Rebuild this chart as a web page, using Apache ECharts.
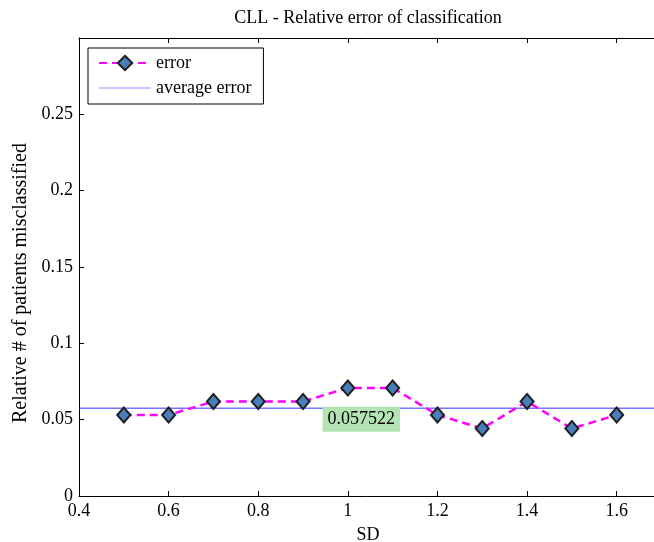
<!DOCTYPE html>
<html>
<head>
<meta charset="utf-8">
<script src="https://cdn.jsdelivr.net/npm/echarts@6/dist/echarts.min.js"></script>
<style>
html,body{margin:0;padding:0;background:#fff;overflow:hidden;}
#chart{width:654px;height:542px;}
</style>
</head>
<body>
<div id="chart"></div>
<script>
// ---- data ----
var sdValues = [0.5, 0.6, 0.7, 0.8, 0.9, 1.0, 1.1, 1.2, 1.3, 1.4, 1.5, 1.6];
var errorValues = [0.0531, 0.0531, 0.0619, 0.0619, 0.0619, 0.0708, 0.0708, 0.0531, 0.0442, 0.0619, 0.0442, 0.0531];
var averageError = 0.057522;
var averageLabel = '0.057522';
var averageLabelX = 1.03;
var xMin = 0.4, xMax = 1.69, yMin = 0, yMax = 0.3;
var titleText = 'CLL - Relative error of classification';
var xName = 'SD';
var yName = 'Relative # of patients misclassified';
var seriesNames = ['error', 'average error'];

var FONT = 'Liberation Serif';
var chart = echarts.init(document.getElementById('chart'), null, {renderer: 'canvas'});

var errorData = sdValues.map(function (x, i) { return [x, errorValues[i]]; });
var averageData = [[xMin, averageError], [xMax, averageError]];

function axisLine() { return {show: true, onZero: false, lineStyle: {color: '#000', width: 1}}; }
function axisTick() { return {show: true, inside: true, length: 5, lineStyle: {color: '#000', width: 1}}; }

var option = {
  backgroundColor: '#fff',
  animation: false,
  textStyle: {fontFamily: FONT},
  grid: {left: 79, top: 38, width: 578, height: 458, outerBoundsMode: 'none', containLabel: false},
  legend: {
    orient: 'vertical',
    left: 88, top: 48,
    padding: [5, 12, 6, 10],
    itemGap: 5,
    itemWidth: 52, itemHeight: 18,
    backgroundColor: '#fff',
    borderColor: '#000', borderWidth: 1,
    textStyle: {fontFamily: FONT, fontSize: 18, color: '#000', lineHeight: 20},
    data: [
      {name: seriesNames[0]},
      {name: seriesNames[1], itemStyle: {opacity: 0}, lineStyle: {color: '#9090ff', width: 1}}
    ]
  },
  graphic: [{
    type: 'text',
    x: 21, y: 283,
    rotation: Math.PI / 2,
    style: {
      text: yName,
      font: '20px "Liberation Serif"',
      fill: '#000',
      align: 'center',
      verticalAlign: 'middle'
    }
  }],
  xAxis: [
    {
      type: 'value', min: xMin, max: xMax, interval: 0.2,
      position: 'bottom',
      axisLine: axisLine(), axisTick: axisTick(), splitLine: {show: false},
      name: xName, nameLocation: 'middle', nameGap: 30,
      nameTextStyle: {fontFamily: FONT, fontSize: 18, color: '#000'},
      axisLabel: {fontFamily: FONT, fontSize: 18, color: '#000', margin: 6, showMaxLabel: false}
    },
    {
      type: 'value', min: xMin, max: xMax, interval: 0.2,
      position: 'top',
      axisLine: axisLine(), axisTick: axisTick(), splitLine: {show: false},
      name: titleText, nameLocation: 'middle', nameGap: 11,
      nameTextStyle: {fontFamily: FONT, fontSize: 18, color: '#000'},
      axisLabel: {show: false}
    }
  ],
  yAxis: [
    {
      type: 'value', min: yMin, max: yMax, interval: 0.05,
      position: 'left',
      axisLine: axisLine(), axisTick: axisTick(), splitLine: {show: false},
      axisLabel: {fontFamily: FONT, fontSize: 18, color: '#000', margin: 6, showMaxLabel: false}
    },
    {
      type: 'value', min: yMin, max: yMax, interval: 0.05,
      position: 'right',
      show: false
    }
  ],
  series: [
    {
      name: seriesNames[1],
      type: 'line',
      xAxisIndex: 0, yAxisIndex: 0,
      data: averageData,
      symbol: 'none',
      lineStyle: {color: '#3030ff', width: 1, type: 'solid'},
      itemStyle: {color: '#3030ff'},
      silent: true,
      markPoint: {
        silent: true,
        symbol: 'rect',
        symbolSize: 1,
        itemStyle: {color: 'rgba(0,0,0,0)'},
        label: {
          show: true,
          position: 'inside',
          offset: [0, 11],
          formatter: averageLabel,
          fontFamily: FONT, fontSize: 18, color: '#000',
          backgroundColor: '#b4e4b4',
          padding: [4, 5, 3, 5]
        },
        data: [{coord: [averageLabelX, averageError]}]
      },
      z: 2
    },
    {
      name: seriesNames[0],
      type: 'line',
      xAxisIndex: 0, yAxisIndex: 0,
      data: errorData,
      symbol: 'diamond',
      symbolSize: [13, 15],
      lineStyle: {color: '#ff00ff', width: 2.5, type: [8, 5]},
      itemStyle: {color: '#4a7ebb', borderColor: '#1e1e1e', borderWidth: 2},
      z: 3
    }
  ]
};
chart.setOption(option);
</script>
</body>
</html>
